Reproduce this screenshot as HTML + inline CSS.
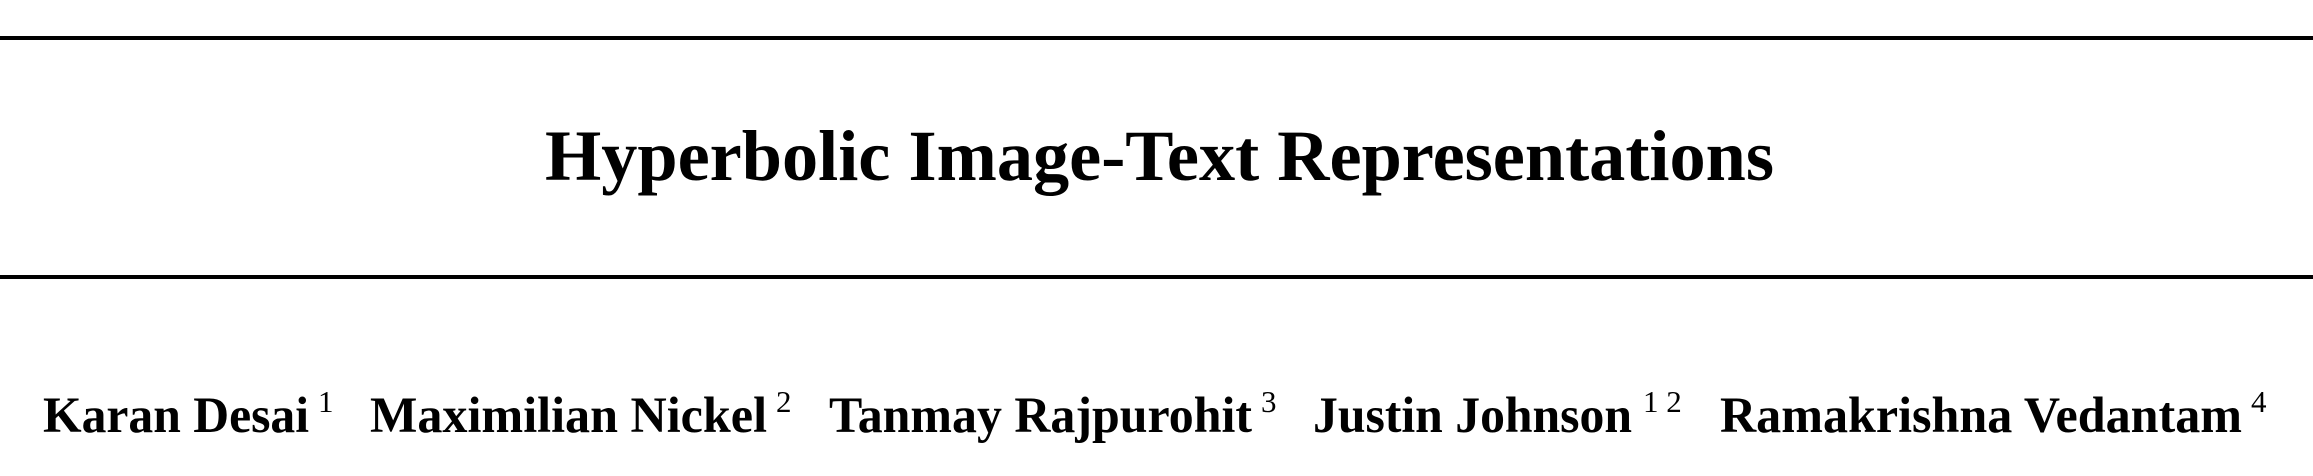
<!DOCTYPE html>
<html><head><meta charset="utf-8"><style>
html,body{margin:0;padding:0;background:#fff;}
svg{display:block;}
text{font-family:"Liberation Serif",serif;font-weight:bold;fill:#000;}
.s{font-weight:normal;font-size:31px;}
</style></head><body>
<svg width="2313" height="476" viewBox="0 0 2313 476" xmlns="http://www.w3.org/2000/svg">
<rect x="0" y="36" width="2313" height="4" fill="#000"/>
<rect x="0" y="275" width="2313" height="4" fill="#000"/>
<text x="545" y="180" font-size="72" textLength="1229" lengthAdjust="spacingAndGlyphs">Hyperbolic Image-Text Representations</text>
<g font-size="51">
<text x="43" y="432" textLength="266" lengthAdjust="spacingAndGlyphs">Karan Desai</text>
<text x="370" y="432" textLength="397" lengthAdjust="spacingAndGlyphs">Maximilian Nickel</text>
<text x="829" y="432" textLength="423" lengthAdjust="spacingAndGlyphs">Tanmay Rajpurohit</text>
<text x="1313" y="432" textLength="319" lengthAdjust="spacingAndGlyphs">Justin Johnson</text>
<text x="1720" y="432" textLength="522" lengthAdjust="spacingAndGlyphs">Ramakrishna Vedantam</text>
</g>
<text class="s" x="318" y="412">1</text>
<text class="s" x="776" y="412">2</text>
<text class="s" x="1261" y="412">3</text>
<text class="s" x="1643" y="412">1 2</text>
<text class="s" x="2251" y="412">4</text>
</svg>
</body></html>
